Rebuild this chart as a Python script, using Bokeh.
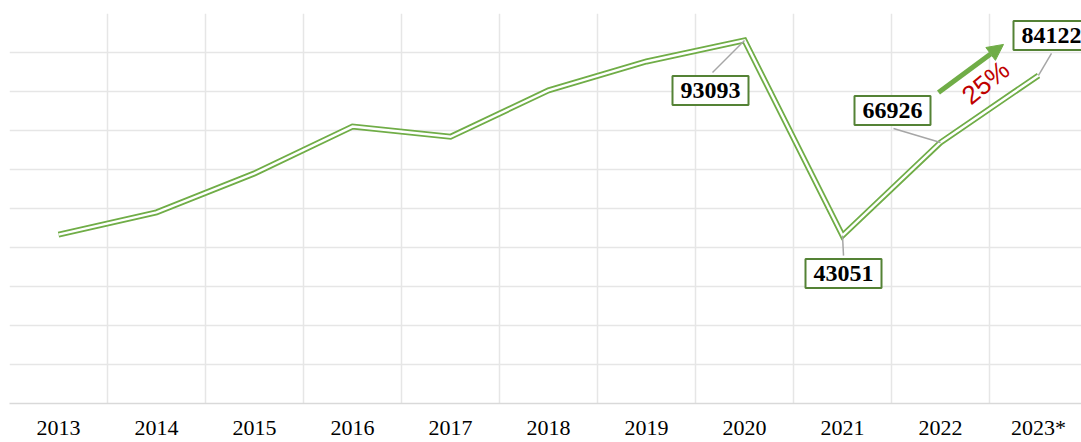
from bokeh.plotting import figure
from bokeh.models import FixedTicker, Label, Arrow, NormalHead, Range1d
from bokeh.embed import file_html
from bokeh.resources import INLINE

# ---- data ----
years = ["2013", "2014", "2015", "2016", "2017", "2018", "2019", "2020", "2021", "2022", "2023*"]
values = [43300, 49000, 59000, 71000, 68400, 80300, 87700, 93093, 43051, 66926, 84122]
labeled_years = ["2020", "2021", "2022", "2023*"]
growth_text = "25%"
growth_from = "2022"
growth_to = "2023*"

# ---- style ----
GREEN = "#70ad47"
BOX_GREEN = "#548235"
RED = "#c00000"
GRID = "#e6e6e6"
LEADER = "#a6a6a6"

CAT_PX = 98.0          # pixels per category
FRAME_W = 1072
FRAME_H = 390
Y_MAX = 100000
PX_PER_Y = FRAME_H / Y_MAX

x = list(range(len(years)))

p = figure(frame_width=FRAME_W, frame_height=FRAME_H,
           x_range=Range1d(-0.5, -0.5 + FRAME_W / CAT_PX),
           y_range=Range1d(0, Y_MAX),
           output_backend="svg", toolbar_location=None,
           min_border_left=9, min_border_right=0, min_border_top=13, min_border_bottom=0)
p.outline_line_color = None
p.background_fill_color = "white"
p.border_fill_color = "white"

p.yaxis.visible = False
p.ygrid.ticker = FixedTicker(ticks=list(range(0, Y_MAX + 1, 10000)))
p.ygrid.grid_line_color = GRID
p.ygrid.grid_line_width = 1.5
p.xgrid.ticker = FixedTicker(ticks=[i - 0.5 for i in range(len(years) + 1)])
p.xgrid.grid_line_color = GRID
p.xgrid.grid_line_width = 1.5

ax = p.xaxis[0]
ax.ticker = FixedTicker(ticks=x)
ax.major_label_overrides = {i: y for i, y in enumerate(years)}
ax.major_tick_in = 0
ax.major_tick_out = 0
ax.minor_tick_in = 0
ax.minor_tick_out = 0
ax.axis_line_color = "#d9d9d9"
ax.axis_line_width = 1.5
ax.major_label_text_font = "Liberation Serif"
ax.major_label_text_font_size = "22px"
ax.major_label_text_color = "black"
ax.major_label_standoff = 11

# double line
p.line(x, values, line_color=GREEN, line_width=6, line_join="miter")
p.line(x, values, line_color="white", line_width=2.4, line_join="miter")

# value boxes: (box center offset px, leader end offset px), y up
box_off = {"2020": (-34, -50), "2021": (1, -38), "2022": (-48, 32), "2023*": (13, 40)}
lead_off = {"2020": (-32, -32), "2021": (1, -20), "2022": (-47, 14), "2023*": (13, 22)}

for yr in labeled_years:
    i = years.index(yr)
    v = values[i]
    lx, ly = lead_off[yr]
    p.segment(x0=[i], y0=[v], x1=[i + lx / CAT_PX], y1=[v + ly / PX_PER_Y],
              line_color=LEADER, line_width=1.5)
    bx, by = box_off[yr]
    p.add_layout(Label(x=i, y=v, x_offset=bx, y_offset=by, text=str(v),
                       text_align="center", text_baseline="middle",
                       text_font="Liberation Serif", text_font_style="bold",
                       text_font_size="24px", text_color="black",
                       background_fill_color="white",
                       border_line_color=BOX_GREEN, border_line_width=2,
                       padding=dict(left=8, right=8, top=7, bottom=7)))

# growth arrow
i0 = years.index(growth_from)
i1 = years.index(growth_to)
p.add_layout(Arrow(end=NormalHead(size=16, fill_color=GREEN, line_color=GREEN),
                   x_start=i0 - 2 / CAT_PX, y_start=values[i0] + 50 / PX_PER_Y,
                   x_end=i1 - 35 / CAT_PX, y_end=values[i1] + 31 / PX_PER_Y,
                   line_color=GREEN, line_width=5))
p.add_layout(Label(x=i0, y=values[i0], x_offset=45, y_offset=60, text=growth_text,
                   angle=0.68, text_align="center", text_baseline="middle",
                   text_font="Liberation Sans", text_font_size="26px", text_color=RED))

open("out.html", "w").write(file_html(p, INLINE))
